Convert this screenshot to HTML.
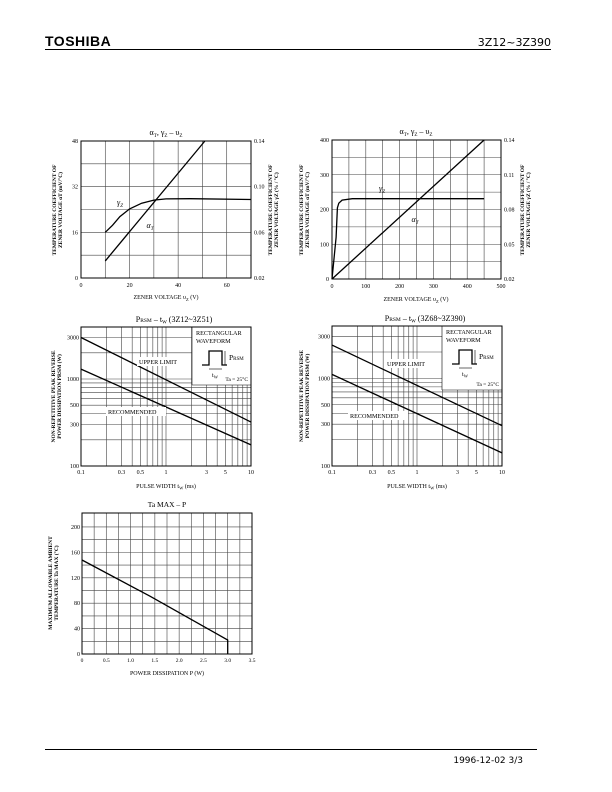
<!DOCTYPE html>
<html><head><meta charset="utf-8"><style>
body{margin:0;background:#fff;}
svg{display:block;font-family:"Liberation Serif",serif;}
</style></head><body>
<svg id="s" width="612" height="792" viewBox="0 0 612 792" xmlns="http://www.w3.org/2000/svg">
<text x="45" y="46" font-family="Liberation Sans, sans-serif" font-weight="bold" font-size="14" letter-spacing="0.5">TOSHIBA</text>
<text x="551" y="46" text-anchor="end" font-family="DejaVu Sans, sans-serif" font-size="11">3Z12~3Z390</text>
<line x1="45" y1="49.5" x2="551" y2="49.5" stroke="#000" stroke-width="1"/>
<line x1="45" y1="749.5" x2="537" y2="749.5" stroke="#000" stroke-width="1"/>
<text x="523" y="763" text-anchor="end" font-family="DejaVu Sans, sans-serif" font-size="9">1996-12-02   3/3</text>
<g id="g"></g>
</svg>
<script>
var out='';
function L(x1,y1,x2,y2,w,c){out+='<line x1="'+x1+'" y1="'+y1+'" x2="'+x2+'" y2="'+y2+'" stroke="'+(c||'#000')+'" stroke-width="'+(w||0.6)+'"/>';}
function T(x,y,s,sz,anc,extra){out+='<text x="'+x+'" y="'+y+'" font-size="'+(sz||6)+'" text-anchor="'+(anc||'middle')+'" '+(extra||'')+'>'+s+'</text>';}
function P(pts,w){out+='<polyline fill="none" stroke="#000" stroke-width="'+(w||1.3)+'" points="'+pts.map(p=>p[0].toFixed(1)+','+p[1].toFixed(1)).join(' ')+'"/>';}
function R(x,y,w,h){out+='<rect x="'+x+'" y="'+y+'" width="'+w+'" height="'+h+'" fill="none" stroke="#000" stroke-width="1"/>';}
function VT(x,y,lines,sz){out+='<text transform="translate('+x+','+y+') rotate(-90)" font-size="'+(sz||5.5)+'" text-anchor="middle" font-weight="bold">'+lines+'</text>';}

(function(){
 var x0=81,x1=251,y0=141,y1=278;
 var X=v=>x0+(x1-x0)*v/70, Y=v=>y1-(y1-y0)*v/48;
 for(var v=10;v<70;v+=10)L(X(v),y0,X(v),y1,0.6,'#444');
 for(var v=8;v<48;v+=8)L(x0,Y(v),x1,Y(v),0.6,'#444');
 R(x0,y0,x1-x0,y1-y0);
 [0,20,40,60].forEach(v=>T(X(v),y1+9,v));
 [[0,'0'],[16,'16'],[32,'32'],[48,'48']].forEach(a=>T(x0-3,Y(a[0])+2,a[1],6,'end'));
 [[0,'0.02'],[16,'0.06'],[32,'0.10'],[48,'0.14']].forEach(a=>T(x1+3,Y(a[0])+2,a[1],6,'start'));
 P([[X(10),Y(6)],[X(51),Y(48)]]);
 P([[10,16],[13,18.5],[16,21.5],[20,24.2],[25,26.2],[30,27.3],[35,27.7],[45,27.8],[70,27.5]].map(p=>[X(p[0]),Y(p[1])]));
 T(120,205,'γ<tspan font-size="5" dy="2">Z</tspan>',8,'middle','font-style="italic"');
 T(150,228,'α<tspan font-size="5" dy="2">T</tspan>',8,'middle','font-style="italic"');
 T(166,135,'α<tspan font-size="5" dy="2">T</tspan><tspan dy="-2">, γ</tspan><tspan font-size="5" dy="2">Z</tspan><tspan dy="-2"> – υ</tspan><tspan font-size="5" dy="2">Z</tspan>',8);
 T(166,299,'ZENER VOLTAGE   υ<tspan font-size="4.5" dy="2">Z</tspan><tspan dy="-2">   (V)</tspan>',6);
 VT(56,210,'TEMPERATURE COEFFICIENT OF');VT(62,210,'ZENER VOLTAGE   αT   (mV/°C)');
 VT(272,210,'TEMPERATURE COEFFICIENT OF');VT(278,210,'ZENER VOLTAGE   γZ   (% / °C)');
})();

(function(){
 var x0=332,x1=501,y0=140,y1=279;
 var X=v=>x0+(x1-x0)*v/500, Y=v=>y1-(y1-y0)*v/400;
 for(var v=50;v<500;v+=50)L(X(v),y0,X(v),y1,0.6,'#444');
 for(var v=50;v<400;v+=50)L(x0,Y(v),x1,Y(v),0.6,'#444');
 R(x0,y0,x1-x0,y1-y0);
 [0,100,200,300,400,500].forEach(v=>T(X(v),y1+9,v));
 [0,100,200,300,400].forEach(v=>T(x0-3,Y(v)+2,v,6,'end'));
 [[0,'0.02'],[100,'0.05'],[200,'0.08'],[300,'0.11'],[400,'0.14']].forEach(a=>T(x1+3,Y(a[0])+2,a[1],6,'start'));
 P([[X(0),Y(0)],[X(450),Y(400)]]);
 P([[0,0],[12,120],[16,205],[20,218],[30,227],[60,231],[450,231]].map(p=>[X(p[0]),Y(p[1])]));
 T(382,191,'γ<tspan font-size="5" dy="2">Z</tspan>',8,'middle','font-style="italic"');
 T(415,222,'α<tspan font-size="5" dy="2">T</tspan>',8,'middle','font-style="italic"');
 T(416,134,'α<tspan font-size="5" dy="2">T</tspan><tspan dy="-2">, γ</tspan><tspan font-size="5" dy="2">Z</tspan><tspan dy="-2"> – υ</tspan><tspan font-size="5" dy="2">Z</tspan>',8);
 T(416,301,'ZENER VOLTAGE   υ<tspan font-size="4.5" dy="2">Z</tspan><tspan dy="-2">   (V)</tspan>',6);
 VT(303,210,'TEMPERATURE COEFFICIENT OF');VT(309,210,'ZENER VOLTAGE   αT   (mV/°C)');
 VT(524,210,'TEMPERATURE COEFFICIENT OF');VT(530,210,'ZENER VOLTAGE   γZ   (% / °C)');
})();

function logChart(x0,x1,y0,y1,ymax,up,rec,title,bx,by1,vx,ul,rl){
 var X=v=>x0+(x1-x0)*(Math.log10(v)+1)/2, Y=v=>y1-(y1-y0)*(Math.log10(v)-2)/(Math.log10(ymax)-2);
 var xs=[0.2,0.3,0.4,0.5,0.6,0.7,0.8,0.9,1,2,3,4,5,6,7,8,9];
 xs.forEach(v=>L(X(v),y0,X(v),y1,0.6,'#444'));
 [200,300,400,500,600,700,800,900,1000,2000,3000].forEach(v=>L(x0,Y(v),x1,Y(v),0.6,'#444'));
 out+='<rect x="'+bx+'" y="'+y0+'" width="'+(x1-bx)+'" height="'+(by1-y0)+'" fill="#fff"/>';
 L(bx,y0,bx,by1,0.6);L(bx,by1,x1,by1,0.6);
 R(x0,y0,x1-x0,y1-y0);
 [[0.1,'0.1'],[0.3,'0.3'],[0.5,'0.5'],[1,'1'],[3,'3'],[5,'5'],[10,'10']].forEach(a=>T(X(a[0]),y1+8,a[1]));
 [100,300,500,1000,3000].forEach(v=>T(x0-2,Y(v)+2,v,6,'end'));
 P([[X(0.1),Y(up[0])],[X(10),Y(up[1])]]);
 P([[X(0.1),Y(rec[0])],[X(10),Y(rec[1])]]);
 out+='<rect x="'+(ul[0]-2)+'" y="'+(ul[1]-7)+'" width="50" height="9" fill="#fff"/>';
 T(ul[0],ul[1],'UPPER LIMIT',6.2,'start');
 out+='<rect x="'+(rl[0]-2)+'" y="'+(rl[1]-7)+'" width="60" height="9" fill="#fff"/>';
 T(rl[0],rl[1],'RECOMMENDED',6.2,'start');
 T(bx+4,y0+8,'RECTANGULAR',6.2,'start');T(bx+4,y0+16,'WAVEFORM',6.2,'start');
 var wx=bx+10,wy=y0+38;
 P([[wx,wy],[wx+7,wy],[wx+7,wy-14],[wx+20,wy-14],[wx+20,wy],[wx+25,wy]],1.3);
 L(wx+7,wy+4,wx+20,wy+4,0.6);L(wx+23,wy-14,wx+23,wy,0.6);
 T(wx+27,wy-5,'P<tspan font-size="5">RSM</tspan>',7.5,'start');
 T(wx+13,wy+12,'t<tspan font-size="4.5" dy="1.5">W</tspan>',6);
 T(x1-3,by1-4,'Ta = 25°C',5.5,'end');
 T((x0+x1)/2+8,y0-5,'P<tspan font-size="5.5">RSM</tspan> – t<tspan font-size="5" dy="1.5">W</tspan><tspan dy="-1.5">   '+title+'</tspan>',8);
 T((x0+x1)/2,y1+22,'PULSE WIDTH   t<tspan font-size="4.5" dy="1.5">W</tspan><tspan dy="-1.5">   (ms)</tspan>',6);
 VT(vx,(y0+y1)/2,'NON-REPETITIVE PEAK REVERSE');VT(vx+6,(y0+y1)/2,'POWER DISSIPATION   PRSM   (W)');
}
logChart(81,251,327,466,3960,[3000,320],[1300,175],'(3Z12~3Z51)',192,385,55,[139,364],[108,414]);
logChart(332,502,326,466,3960,[2400,288],[1110,141],'(3Z68~3Z390)',442,390,303,[387,366],[350,418]);

(function(){
 var x0=82,x1=252,y0=513,y1=654;
 var X=v=>x0+(x1-x0)*v/3.5, Y=v=>y1-(y1-y0)*v/222;
 for(var v=0.25;v<3.5;v+=0.25)L(X(v),y0,X(v),y1,0.6,'#444');
 for(var v=20;v<=200;v+=20)L(x0,Y(v),x1,Y(v),0.6,'#444');
 R(x0,y0,x1-x0,y1-y0);
 ['0','0.5','1.0','1.5','2.0','2.5','3.0','3.5'].forEach((s,i)=>T(X(i*0.5),y1+8,s,5.5));
 [0,40,80,120,160,200].forEach(v=>T(x0-2,Y(v)+2,v,6,'end'));
 P([[X(0),Y(148)],[X(1.4),Y(91)],[X(3),Y(22)],[X(3),Y(0)]]);
 T(167,507,'Ta MAX  –  P',7.5);
 T(167,675,'POWER DISSIPATION   P   (W)',6);
 VT(52,583,'MAXIMUM ALLOWABLE AMBIENT');VT(58,583,'TEMPERATURE   Ta MAX   (°C)');
})();
document.getElementById('g').innerHTML=out;
</script>
</body></html>
